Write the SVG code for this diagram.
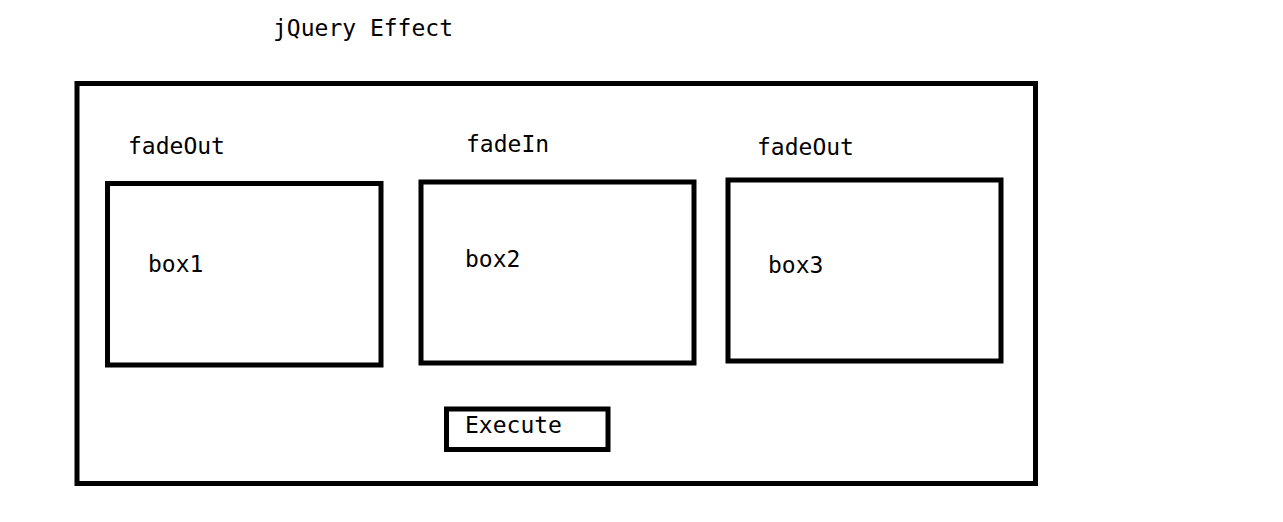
<svg xmlns="http://www.w3.org/2000/svg" width="1283" height="522" viewBox="0 0 1283 522">
<style>
.box{fill:none;stroke:#000;stroke-width:5}
.t{font-family:"DejaVu Sans Mono","Liberation Mono",monospace;font-size:23px;fill:#000}
</style>
<rect width="1283" height="522" fill="#fff"/>
<text class="t" x="273" y="35.5">jQuery Effect</text>
<g id="container"><rect class="box" x="77" y="83.5" width="958.5" height="400"/></g>
<g id="label1"><text class="t" x="128" y="154">fadeOut</text></g>
<g id="label2"><text class="t" x="466" y="152">fadeIn</text></g>
<g id="label3"><text class="t" x="757" y="155">fadeOut</text></g>
<g id="box1"><rect class="box" x="107.5" y="183.5" width="273.5" height="181.5"/><text class="t" x="148" y="271.5">box1</text></g>
<g id="box2"><rect class="box" x="421" y="182" width="273" height="181"/><text class="t" x="465" y="266.5">box2</text></g>
<g id="box3"><rect class="box" x="728" y="180" width="273" height="181"/><text class="t" x="768" y="273">box3</text></g>
<g id="execute"><rect class="box" x="446.5" y="409" width="161.5" height="40.5"/><text class="t" x="465" y="432.5">Execute</text></g>
<g id="connectors"></g>
</svg>
